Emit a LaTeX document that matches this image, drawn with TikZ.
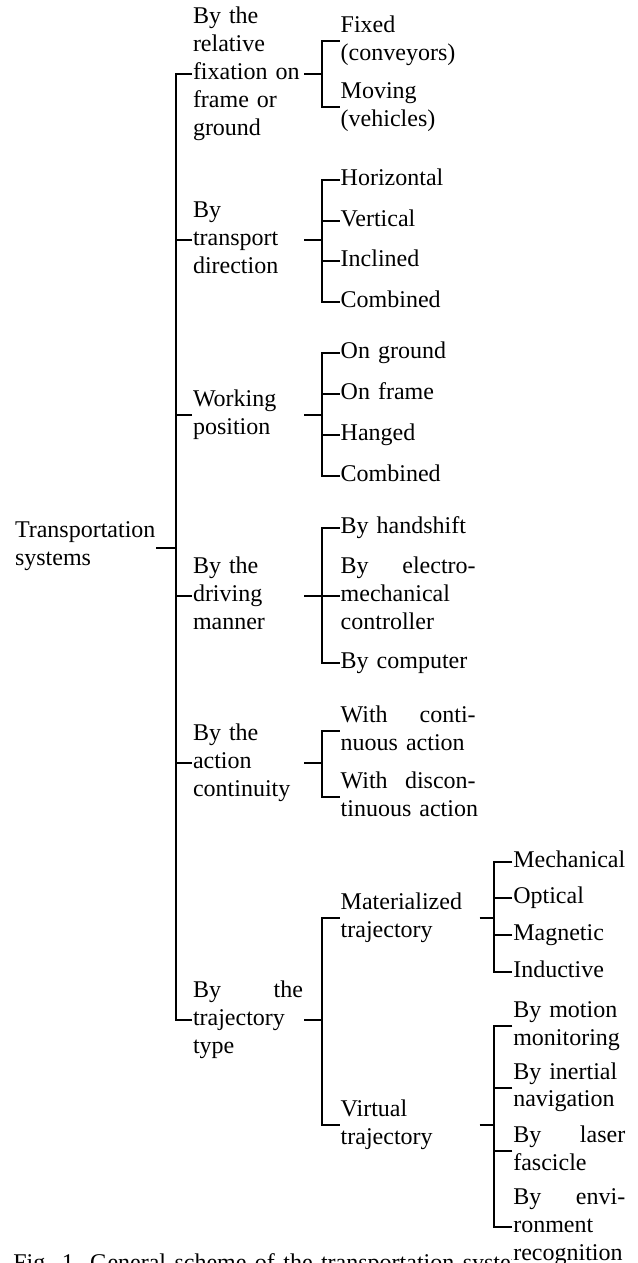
\documentclass[tikz,border=0pt]{standalone}
\usepackage{fontspec}
\setmainfont{Liberation Serif}
\begin{document}
\begin{tikzpicture}[x=0.5pt,y=-0.5pt,
  lbl/.style={font=\fontsize{12}{13.9}\selectfont, align=left, inner xsep=0.5pt, inner ysep=0pt, outer sep=0pt, anchor=west, execute at begin node=\strut, execute at end node=\strut},
  wa/.style={lbl,text width=55pt},
  wb/.style={lbl,text width=67.5pt},
  wbb/.style={lbl,text width=69pt},
  wc/.style={lbl,text width=56pt},
  ln/.style={line width=1pt}]
\useasboundingbox (0,0) rectangle (637,1263);
% caption (clipped by the page, as in the reference)
\node[font=\fontsize{12}{13.9}\selectfont, inner sep=0pt, anchor=base west] (cap) at (13,1270) {\spaceskip=4.2pt plus 1pt Fig. 1. General scheme of the transportation systems};
% root
\node[lbl] (root) at (14,547.7) {Transportation\\systems};
% level 1
\node[wa] (a1) at (192,74) {By the\\relative\\fixation on\\frame or\\ground};
\node[wa] (a2) at (192,240) {By\\transport\\direction};
\node[wa] (a3) at (192,415) {Working\\position};
\node[wa] (a4) at (192,596) {By the\\driving\\manner};
\node[wa] (a5) at (192,762.7) {By the\\action\\continuity};
\node[wa] (a6) at (192,1020) {By\hfill the\\trajectory\\type};
% level 2
\node[wb] (b1a) at (339.7,41) {Fixed\\(conveyors)};
\node[wb] (b1b) at (339.7,107.3) {Moving\\(vehicles)};
\node[wb] (b2a) at (339.7,180) {Horizontal};
\node[wb] (b2b) at (339.7,220.5) {Vertical};
\node[wb] (b2c) at (339.7,261) {Inclined};
\node[wb] (b2d) at (339.7,301.7) {Combined};
\node[wb] (b3a) at (339.7,353.3) {On ground};
\node[wb] (b3b) at (339.7,394) {On frame};
\node[wb] (b3c) at (339.7,435) {Hanged};
\node[wb] (b3d) at (339.7,476) {Combined};
\node[wb] (b4a) at (339.7,528.3) {By handshift};
\node[wb] (b4b) at (339.7,596) {By\hfill electro-\\mechanical\\controller};
\node[wb] (b4c) at (339.7,663.3) {By computer};
\node[wb] (b5a) at (339.7,730.7) {With\hfill conti-\\nuous~action};
\node[wb] (b5b) at (339.7,796.7) {With\hfill discon-\\tinuous~action};
\node[wbb] (b6a) at (339.7,918) {Materialized\\trajectory};
\node[wbb] (b6b) at (339.7,1125) {Virtual\\trajectory};
% level 3
\node[wc] (c1a) at (512.3,862.3) {Mechanical};
\node[wc] (c1b) at (512.3,898.3) {Optical};
\node[wc] (c1c) at (512.3,935) {Magnetic};
\node[wc] (c1d) at (512.3,971.7) {Inductive};
\node[wc] (c2a) at (512.3,1025.8) {By motion\\monitoring};
\node[wc] (c2b) at (512.3,1087.5) {By inertial\\navigation};
\node[wc] (c2c) at (512.3,1150.8) {By\hfill laser\\fascicle};
\node[wc, fill=white] (c2d) at (512.3,1226.7) {By\hfill envi-\\ronment\\recognition};
% bracket positions
\coordinate (tr) at (175.7,547.7);
\coordinate (bx) at (321.7,0);
\coordinate (cx) at (494.3,0);
% trunk
\draw[ln] (root.east) -- (tr);
\draw[ln] (a1.west) -| (tr) |- (a6.west);
\foreach \n in {a2,a3,a4,a5} \draw[ln] (\n.west) -- (\n.west -| tr);
% group 1
\draw[ln] (a1.east) -- (a1.east -| bx);
\draw[ln] (b1a.west) -| (a1.east -| bx) |- (b1b.west);
% group 2
\draw[ln] (a2.east) -- (a2.east -| bx);
\draw[ln] (b2a.west) -| (a2.east -| bx) |- (b2d.west);
\foreach \n in {b2b,b2c} \draw[ln] (\n.west) -- (\n.west -| bx);
% group 3
\draw[ln] (a3.east) -- (a3.east -| bx);
\draw[ln] (b3a.west) -| (a3.east -| bx) |- (b3d.west);
\foreach \n in {b3b,b3c} \draw[ln] (\n.west) -- (\n.west -| bx);
% group 4
\draw[ln] (a4.east) -- (a4.east -| bx);
\draw[ln] (b4a.west) -| (a4.east -| bx) |- (b4c.west);
\draw[ln] (b4b.west) -- (b4b.west -| bx);
% group 5
\draw[ln] (a5.east) -- (a5.east -| bx);
\draw[ln] (b5a.west) -| (a5.east -| bx) |- (b5b.west);
% group 6
\draw[ln] (a6.east) -- (a6.east -| bx);
\draw[ln] (b6a.west) -| (a6.east -| bx) |- (b6b.west);
% materialized
\draw[ln] (b6a.east) -- (b6a.east -| cx);
\draw[ln] (c1a.west) -| (b6a.east -| cx) |- (c1d.west);
\foreach \n in {c1b,c1c} \draw[ln] (\n.west) -- (\n.west -| cx);
% virtual
\draw[ln] (b6b.east) -- (b6b.east -| cx);
\draw[ln] (c2a.west) -| (b6b.east -| cx) |- (c2d.west);
\foreach \n in {c2b,c2c} \draw[ln] (\n.west) -- (\n.west -| cx);
\end{tikzpicture}
\end{document}
